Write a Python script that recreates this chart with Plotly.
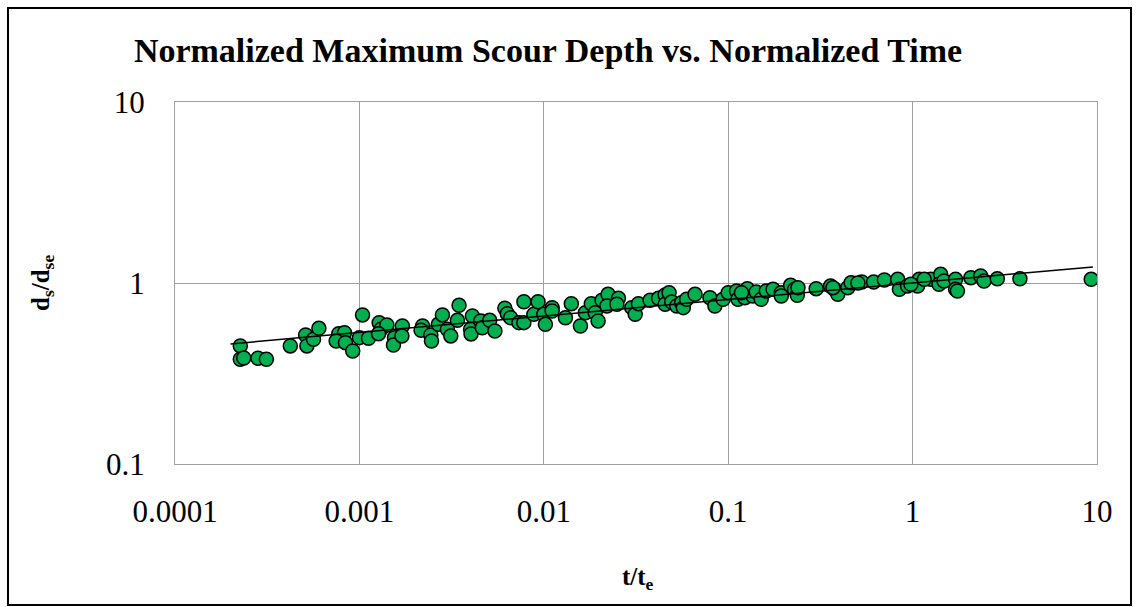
import numpy as np
import plotly.graph_objects as go

# normalized time t/te
t_norm = [
    2.26e-4, 2.26e-4, 2.36e-4, 2.82e-4, 3.13e-4, 4.22e-4, 5.11e-4, 5.19e-4, 5.64e-4, 6.03e-4,
    7.73e-4, 8.30e-4, 7.48e-4, 8.40e-4, 9.2e-4, 1.04e-3, 1.0e-3, 1.12e-3, 1.28e-3, 1.31e-3,
    1.41e-3, 1.27e-3, 1.55e-3, 1.53e-3, 1.71e-3, 1.70e-3, 2.20e-3, 2.16e-3, 2.44e-3, 2.46e-3,
    2.68e-3, 2.82e-3, 3.0e-3, 3.47e-3, 3.40e-3, 3.13e-3, 4.10e-3, 4.01e-3, 4.03e-3, 4.55e-3,
    4.64e-3, 5.09e-3, 5.43e-3, 6.15e-3, 6.34e-3, 6.61e-3, 7.80e-3, 7.33e-3, 7.80e-3, 8.83e-3,
    9.31e-3, 0.0100, 0.0102, 0.0111, 0.0111, 0.0131, 0.0141, 0.0158, 0.0168, 0.0181,
    0.0190, 0.0197, 0.0207, 0.0223, 0.0220, 0.0254, 0.0249, 0.0300, 0.0313, 0.0326,
    0.0377, 0.0419, 0.0455, 0.0455, 0.0478, 0.0494, 0.0526, 0.0559, 0.0571, 0.0595,
    0.0661, 0.0796, 0.0847, 0.0939, 0.100, 0.111, 0.113, 0.123, 0.127, 0.136,
    0.142, 0.151, 0.161, 0.175, 0.194, 0.218, 0.229, 0.237, 0.300, 0.359,
    0.377, 0.393, 0.445, 0.464, 0.530, 0.615, 0.703, 0.830, 0.848, 0.939,
    1.087, 1.064, 1.256, 1.42, 1.39, 1.48, 1.71, 1.71, 2.07, 2.34,
    2.44, 2.88, 3.82, 9.3, 0.118, 0.194, 0.239, 0.370, 0.505, 0.979,
    1.157, 1.75,
]

# normalized scour depth ds/dse
ds_norm = [
    0.449, 0.379, 0.385, 0.384, 0.379, 0.449, 0.516, 0.449, 0.489, 0.562,
    0.525, 0.531, 0.478, 0.468, 0.421, 0.666, 0.499, 0.495, 0.604, 0.555,
    0.586, 0.525, 0.499, 0.454, 0.579, 0.510, 0.579, 0.548, 0.516, 0.478,
    0.591, 0.666, 0.555, 0.753, 0.622, 0.510, 0.657, 0.555, 0.523, 0.617,
    0.566, 0.622, 0.543, 0.725, 0.677, 0.643, 0.788, 0.604, 0.604, 0.671,
    0.788, 0.671, 0.591, 0.731, 0.700, 0.643, 0.769, 0.579, 0.685, 0.769,
    0.685, 0.617, 0.802, 0.866, 0.746, 0.823, 0.763, 0.731, 0.671, 0.769,
    0.802, 0.823, 0.859, 0.763, 0.884, 0.785, 0.746, 0.778, 0.731, 0.813,
    0.866, 0.830, 0.746, 0.813, 0.884, 0.903, 0.813, 0.830, 0.930, 0.848,
    0.892, 0.813, 0.903, 0.923, 0.884, 0.971, 0.923, 0.855, 0.930, 0.962,
    0.923, 0.866, 0.942, 1.004, 1.013, 1.013, 1.040, 1.048, 0.923, 0.962,
    1.048, 0.962, 1.048, 1.117, 0.984, 1.026, 1.048, 0.923, 1.070, 1.093,
    1.026, 1.056, 1.056, 1.048, 0.884, 0.848, 0.942, 0.942, 1.000, 0.984,
    1.048, 0.903,
]

x_tickvals = [1e-4, 1e-3, 1e-2, 1e-1, 1, 10]
x_ticktext = ["0.0001", "0.001", "0.01", "0.1", "1", "10"]
y_tickvals = [0.1, 1, 10]
y_ticktext = ["0.1", "1", "10"]

# power-law trendline y = a * x^b as shown on the chart
trend_a = 1.0
trend_b = 0.091
trend_range = [2.0e-4, 9.5]
trend_x = np.logspace(np.log10(trend_range[0]), np.log10(trend_range[1]), 100)
trend_y = trend_a * trend_x ** trend_b

W, H = 1139, 607
L, R, T, B = 175, 42, 102, 143
pw, ph = W - L - R, H - T - B

fig = go.Figure()
fig.add_trace(go.Scatter(
    x=t_norm, y=ds_norm, mode="markers",
    marker=dict(size=14, color="#00B050", line=dict(color="black", width=1.5)),
    showlegend=False,
))
# Excel draws the trendline above the markers
fig.add_trace(go.Scatter(
    x=trend_x, y=trend_y, mode="lines",
    line=dict(color="black", width=1.5), showlegend=False,
))

grid = "#A0A0A0"
fig.update_xaxes(
    type="log", range=[-4, 1], tickvals=x_tickvals, ticktext=x_ticktext,
    showgrid=True, gridcolor=grid, gridwidth=1.3,
    showline=True, linecolor=grid, linewidth=1.3, mirror=True,
    ticks="", ticklabelstandoff=20, zeroline=False,
    tickfont=dict(family="Liberation Serif", size=31, color="black"),
)
fig.update_yaxes(
    type="log", range=[-1, 1], tickvals=y_tickvals, ticktext=y_ticktext,
    showgrid=True, gridcolor=grid, gridwidth=1.3,
    showline=True, linecolor=grid, linewidth=1.3, mirror=True,
    ticks="", ticklabelstandoff=23, zeroline=False,
    tickfont=dict(family="Liberation Serif", size=31, color="black"),
)

def px(xp):
    return (xp - L) / pw

def py(yp):
    return (H - B - yp) / ph

fig.add_annotation(
    text="<b>t/t<sub>e</sub></b>", x=px(638), y=py(578), xref="paper", yref="paper",
    showarrow=False, xanchor="center", yanchor="middle",
    font=dict(family="Liberation Serif", size=25, color="black"),
)
fig.add_annotation(
    text="<b>d<sub>s</sub>/d<sub>se</sub></b>", x=px(42), y=py(283), xref="paper", yref="paper",
    showarrow=False, xanchor="center", yanchor="middle", textangle=-90,
    font=dict(family="Liberation Serif", size=25, color="black"),
)
fig.add_shape(
    type="rect", xref="paper", yref="paper",
    x0=px(8), x1=px(1131), y0=py(605), y1=py(8),
    line=dict(color="black", width=2), fillcolor="rgba(0,0,0,0)", layer="below",
)

fig.update_layout(
    width=W, height=H,
    margin=dict(l=L, r=R, t=T, b=B),
    paper_bgcolor="white", plot_bgcolor="white",
    title=dict(
        text="<b>Normalized Maximum Scour Depth vs. Normalized Time</b>",
        x=548 / W, y=1 - 50 / H, xanchor="center", yanchor="middle",
        font=dict(family="Liberation Serif", size=34, color="black"),
    ),
)

fig.write_html("out.html")
